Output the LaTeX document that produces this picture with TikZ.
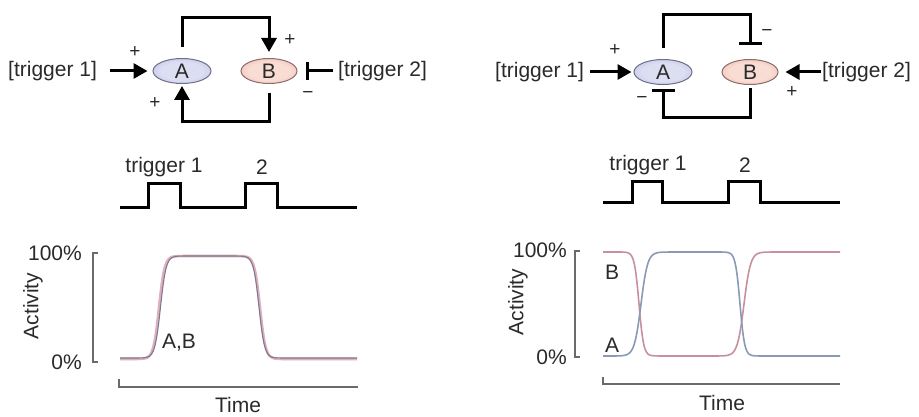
\documentclass[tikz,border=0pt]{standalone}
\usepackage{fontspec}
\setmainfont{Liberation Sans}
\usetikzlibrary{arrows.meta,shapes.geometric}
\definecolor{lavA}{HTML}{9EA2D6}
\definecolor{lavC}{HTML}{DCDEF2}
\definecolor{salB}{HTML}{E2927E}
\definecolor{salC}{HTML}{F9DDD5}
\definecolor{bordA}{HTML}{6E6E88}
\definecolor{bordB}{HTML}{8C6C6C}
\definecolor{txt}{HTML}{2A2A2A}
\definecolor{cred}{HTML}{C8909C}
\definecolor{cpink}{HTML}{DDB0BC}
\definecolor{cgrey}{HTML}{7E7890}
\definecolor{cblue}{HTML}{8A9AB4}
\definecolor{axisg}{HTML}{6A6A6A}
\pgfdeclareradialshading{shA}{\pgfpoint{0bp}{0bp}}{color(0bp)=(lavC); color(18bp)=(lavC); color(50bp)=(lavA)}
\pgfdeclareradialshading{shB}{\pgfpoint{0bp}{0bp}}{color(0bp)=(salC); color(18bp)=(salC); color(50bp)=(salB)}
\begin{document}
\begin{tikzpicture}[x=1pt,y=-1pt,
  font=\fontsize{21}{24}\selectfont,
  declare function={sig(\t)=1/(1+exp(-min(max(\t,-9),9)));},
  every node/.style={text=txt, inner sep=0pt},
  ellA/.style={ellipse, draw=bordA, line width=1pt, shading=shA, minimum width=58pt, minimum height=25pt},
  ellB/.style={ellipse, draw=bordB, line width=1pt, shading=shB, minimum width=56pt, minimum height=25pt},
  act/.style={line width=3pt, -{Triangle[length=14pt,width=15pt]}},
  inh/.style={line width=3pt, -{Bar[width=23pt]}},
  pulse/.style={line width=3pt, line join=miter},
  axisline/.style={draw=axisg, line width=1.5pt},
  sign/.style={font=\fontsize{19}{22}\selectfont}
  ]
\useasboundingbox (0,0) rectangle (919,417);

% ===== Left network =====
\node[ellA] (A1) at (182,71) {A};
\node[ellB] (B1) at (269,71) {B};
\node[anchor=west] (t1L) at (8,71) {[trigger 1]};
\node[anchor=west] (t2L) at (338,71) {[trigger 2]};
\coordinate (top1) at (225,18);
\coordinate (bot1) at (225,122);
\draw[act, shorten <=11pt, shorten >=6pt] (A1.north) |- (top1) -| (B1.north);
\draw[act, shorten <=9pt, shorten >=2pt] (B1.south) |- (bot1) -| (A1.south);
\draw[act, shorten <=13pt, shorten >=5pt] (t1L.east) -- (A1.west);
\draw[line width=3pt, -{Bar[width=18pt]}, shorten <=5pt, shorten >=8pt] (t2L.west) -- (B1.east);
\node[sign] (pL1) at (135,52) {+};
\node[sign] (pL2) at (290,40) {+};
\node[sign] (pL3) at (155,103) {+};
\node[sign] (mL1) at (308,95) {−};

% ===== Right network =====
\node[ellA] (A2) at (663,72) {A};
\node[ellB] (B2) at (750,72) {B};
\node[anchor=west] (t1R) at (495,72) {[trigger 1]};
\node[anchor=west] (t2R) at (822,72) {[trigger 2]};
\coordinate (top2) at (705,15);
\coordinate (bot2) at (705,118);
\draw[inh, shorten <=11pt, shorten >=14pt] (A2.north) |- (top2) -| (B2.north);
\draw[inh, shorten <=3pt, shorten >=4pt] (B2.south) |- (bot2) -| (A2.south);
\draw[act, shorten <=6pt, shorten >=2pt] (t1R.east) -- (A2.west);
\draw[act, shorten <=1pt, shorten >=7pt] (t2R.west) -- (B2.east);
\node[sign] (pR1) at (615,50) {+};
\node[sign] (mR1) at (767,33) {−};
\node[sign] (mR2) at (642,100) {−};
\node[sign] (pR2) at (792,92) {+};

% ===== Pulses =====
\draw[pulse] (120,208) -- (148,208) -- (148,184) -- (180,184) -- (180,208) -- (245,208) -- (245,184) -- (277,184) -- (277,208) -- (357,208);
\node (trL1) at (164,167) {trigger 1};
\node (trL2) at (262,167) {2};
\draw[pulse] (603,203) -- (632,203) -- (632,182) -- (662,182) -- (662,203) -- (728,203) -- (728,182) -- (760,182) -- (760,203) -- (840,203);
\node (trR1) at (648,165) {trigger 1};
\node (trR2) at (745,165) {2};

% ===== Left plot =====
\draw[axisline] (98,253) -- (93,253) -- (93,362) -- (98,362);
\node[anchor=east] (hL) at (82,253) {100\%};
\node[anchor=east] (zL) at (82,362) {0\%};
\node[rotate=90] (acL) at (33,306) {Activity};
\draw[axisline] (119,379) -- (119,387) -- (358,387);
\node (tmL) at (238,405) {Time};
\draw[cpink, line width=2.6pt] plot[domain=120:357, samples=240] (\x, {359 - 103*sig((\x-159)/2.8)*sig((260-\x)/2.8)});
\draw[cgrey, line width=1.1pt] plot[domain=120:357, samples=240] (\x, {358 - 102*sig((\x-160.5)/2.8)*sig((259-\x)/2.8)});
\node (abL) at (179,343) {A,B};

% ===== Right plot =====
\draw[axisline] (580,251) -- (575,251) -- (575,357) -- (580,357);
\node[anchor=east] (hR) at (567,250) {100\%};
\node[anchor=east] (zR) at (567,357) {0\%};
\node[rotate=90] (acR) at (518,302) {Activity};
\draw[axisline] (603,377) -- (603,384) -- (840,384);
\node (tmR) at (722,403) {Time};
\draw[cred, line width=1.6pt] plot[domain=603:840, samples=300] (\x, {356 - 104*(1 - sig((\x-639)/2.3) + sig((\x-744)/3.3))});
\draw[cblue, line width=1.6pt] plot[domain=603:840, samples=300] (\x, {356 - 104*(sig((\x-641)/3.3) - sig((\x-740)/2.3))});
\node (bR) at (612,272) {B};
\node (aR) at (612,345) {A};
\end{tikzpicture}
\end{document}
